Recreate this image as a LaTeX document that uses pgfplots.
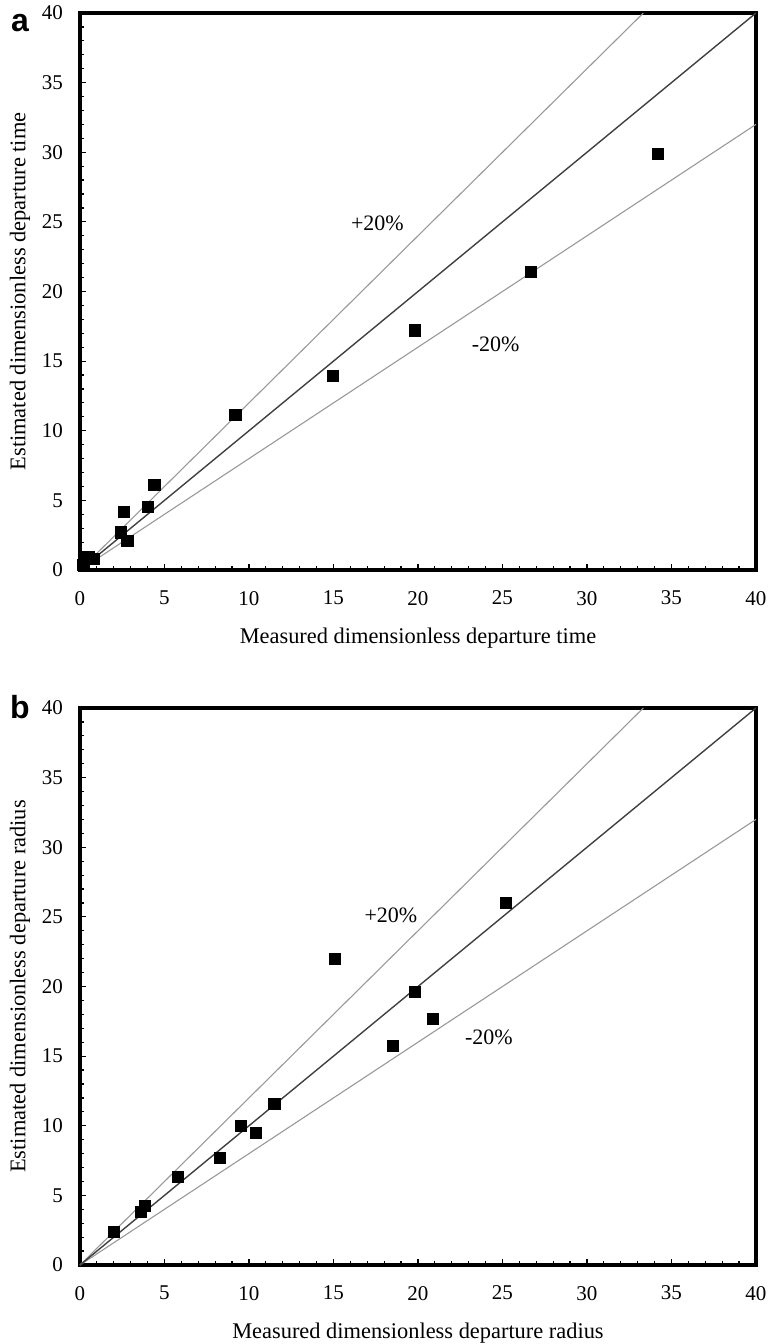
\documentclass[border=0pt]{standalone}
\usepackage{fontspec}
\setmainfont{Liberation Serif}
\newfontfamily\sansfont{Liberation Sans}
\usepackage{pgfplots}
\pgfplotsset{compat=1.18}
\pgfplotsset{mystyle/.style={
  scale only axis, width=338pt, height=278.5pt,
  xmin=0, xmax=40, ymin=0, ymax=40,
  xtick={0,5,...,40}, ytick={0,5,...,40},
  minor x tick num=4, minor y tick num=4,
  tick align=inside, xtick pos=left, ytick pos=left,
  major tick length=3pt, minor tick length=2.2pt,
  tick style={black, line width=0.6pt},
  axis line style={black, line width=1.6pt},
  /pgf/number format/assume math mode=true,
  ticklabel style={font=\fontsize{10.5}{12}\selectfont},
  xticklabel style={yshift=-7pt},
  yticklabel style={xshift=-5pt},
  label style={font=\fontsize{11.2}{13}\selectfont},
  xlabel style={at={(axis description cs:0.5,0)}, anchor=center, yshift=-34pt},
  ylabel style={at={(axis description cs:0,0.5)}, anchor=center, yshift=30pt},
  clip=false,
}}
\begin{document}
\begin{tikzpicture}
% panel a
\begin{axis}[mystyle, at={(0pt,347.5pt)}, anchor=origin,
  xlabel={Measured dimensionless departure time},
  ylabel={Estimated dimensionless departure time}]
\addplot[gray!80, line width=0.55pt] coordinates {(0,0) (33.333,40)};
\addplot[gray!80, line width=0.55pt] coordinates {(0,0) (40,32)};
\addplot[black!75, line width=0.7pt] coordinates {(0,0) (40,40)};
\addplot[only marks, mark=square*, mark size=2.8pt, black] coordinates {
(0.2,0.35) (0.5,0.9) (0.8,0.8) (2.4,2.7) (2.6,4.2) (2.8,2.1) (4.0,4.55)
(4.4,6.1) (9.2,11.15) (14.95,13.95) (19.8,17.2) (26.7,21.4) (34.2,29.9)};
\node[font=\fontsize{11}{13}\selectfont] at (axis cs:17.6,24.9) {+20\%};
\node[font=\fontsize{11}{13}\selectfont] at (axis cs:24.6,16.2) {-20\%};
\end{axis}
% panel b
\begin{axis}[mystyle, at={(0pt,0pt)}, anchor=origin,
  xlabel={Measured dimensionless departure radius},
  ylabel={Estimated dimensionless departure radius}]
\addplot[gray!80, line width=0.55pt] coordinates {(0,0) (33.333,40)};
\addplot[gray!80, line width=0.55pt] coordinates {(0,0) (40,32)};
\addplot[black!75, line width=0.7pt] coordinates {(0,0) (40,40)};
\addplot[only marks, mark=square*, mark size=2.8pt, black] coordinates {
(2.0,2.35) (3.6,3.8) (3.85,4.25) (5.8,6.3) (8.3,7.7) (9.5,10.0) (10.4,9.5)
(11.5,11.55) (15.1,22.0) (18.5,15.75) (19.8,19.6) (20.9,17.7) (25.2,26.0)};
\node[font=\fontsize{11}{13}\selectfont] at (axis cs:18.4,25.1) {+20\%};
\node[font=\fontsize{11}{13}\selectfont] at (axis cs:24.2,16.35) {-20\%};
\end{axis}
\node[font=\sansfont\bfseries\fontsize{16}{18}\selectfont] at (-30pt,621pt) {a};
\node[font=\sansfont\bfseries\fontsize{16}{18}\selectfont] at (-30pt,279pt) {b};
\pgfresetboundingbox
\path[use as bounding box] (-40pt,-39.5pt) rectangle (345pt,632.5pt);
\end{tikzpicture}
\end{document}
